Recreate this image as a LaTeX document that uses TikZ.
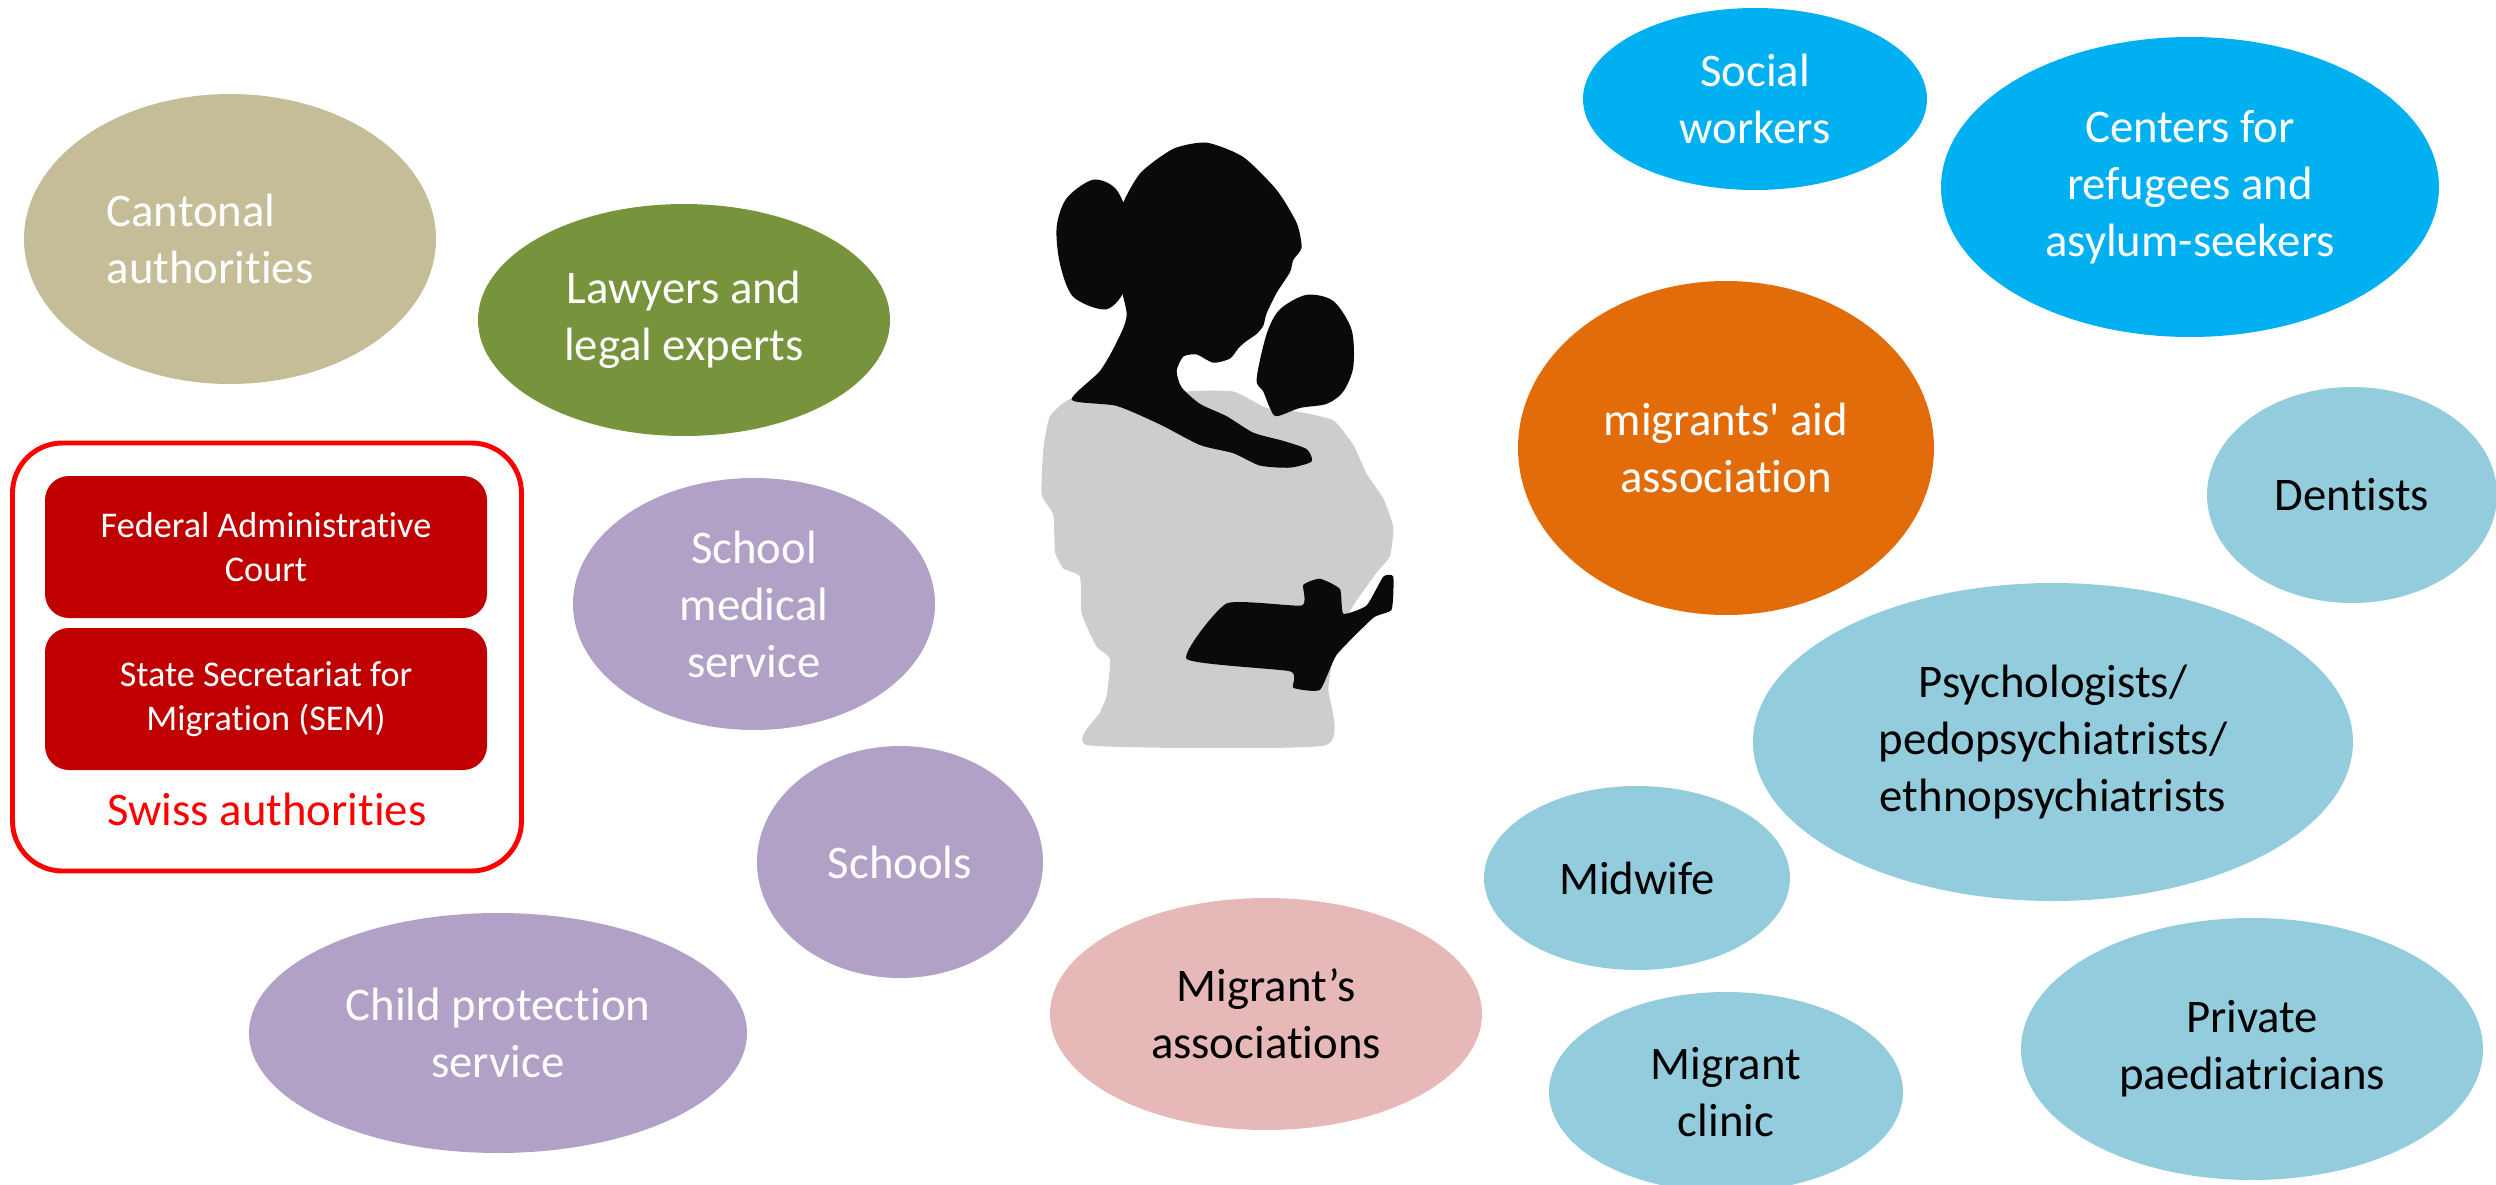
\documentclass[tikz,border=0pt]{standalone}
\usepackage{fontspec}
\setmainfont{Carlito}[Ligatures=NoCommon]
\usetikzlibrary{shapes, positioning}

\definecolor{cantonal}{HTML}{C4BD97}
\definecolor{legal}{HTML}{77933C}
\definecolor{school}{HTML}{B2A1C7}
\definecolor{assoc}{HTML}{E6B9B8}
\definecolor{social}{HTML}{00B0F0}
\definecolor{aid}{HTML}{E36C0A}
\definecolor{health}{HTML}{93CDDD}
\definecolor{fedred}{HTML}{C00000}
\definecolor{swissred}{HTML}{FF0000}
\definecolor{body}{HTML}{CDCDCD}
\definecolor{shadow}{HTML}{0A0A0C}

\begin{document}
\begin{tikzpicture}[x=0.1mm, y=-0.1mm,
	bubble/.style={ellipse, inner sep=0pt, align=center, font=\fontsize{13.3}{16.2}\selectfont},
	authbox/.style={rectangle, rounded corners=2.4mm, fill=fedred, text=white, inner sep=0pt,
		minimum width=44.2mm, minimum height=14.2mm, align=center, font=\fontsize{10.3}{12.5}\selectfont}]
			\useasboundingbox (0,0) rectangle (2496,1185);

			% mother and baby
			\begin{scope}[shift={(1000,120)}, xscale=0.3333, yscale=0.4114]
				\fill[body] plot[smooth cycle, tension=0.3] coordinates {
					(150,720) (220,675) (400,690) (560,660) (700,660) (800,700) (900,710)
					(1000,730) (1060,790) (1100,860) (1150,920) (1180,990) (1170,1060)
					(1130,1100) (1060,1180) (1010,1260) (985,1380) (975,1520) (265,1520)
					(300,1440) (320,1400) (330,1310) (290,1280) (245,1200) (240,1110)
					(190,1090) (165,1050) (160,960) (125,910) (130,800)};
				\fill[shadow] plot[smooth cycle, tension=0.5] coordinates {
					(200,190) (280,145) (350,170) (390,260) (380,400) (320,460) (220,430)
					(180,350) (170,260)};
				\fill[shadow] plot[smooth cycle, tension=0.4] coordinates {
					(215,680) (300,610) (350,540) (380,470) (340,330) (360,220) (420,130)
					(520,70) (620,55) (730,90) (830,170) (890,250) (905,310) (880,340)
					(870,370) (830,420) (800,470) (790,500) (770,520) (735,540) (715,555)
					(690,580) (640,590) (590,570) (550,575) (530,610) (545,650) (600,690)
					(680,720) (760,760) (850,780) (920,800) (935,830) (870,845) (780,840)
					(700,810) (600,790) (480,740) (350,695)};
				\fill[shadow] plot[smooth cycle, tension=0.5] coordinates {
					(800,520) (840,460) (920,425) (1000,440) (1055,510) (1060,600)
					(1030,660) (980,690) (900,700) (830,720) (810,700) (790,660) (770,630)};
				\fill[shadow] plot[smooth cycle, tension=0.3] coordinates {
					(680,1175) (905,1180) (910,1130) (960,1115) (1020,1140) (1030,1200)
					(1100,1180) (1150,1110) (1180,1110) (1175,1190) (1120,1210) (1010,1300)
					(960,1385) (880,1380) (870,1340) (560,1310)};
			\end{scope}

			% Swiss authorities
			\node (swiss)[rectangle, draw=swissred, line width=1.4pt, rounded corners=5mm,
				minimum width=50.9mm, minimum height=42.8mm] at (267,657) {};
			\node (fac)[authbox] at (266,547) {Federal Administrative\\Court};
			\node (sem)[authbox] at (266,699) {State Secretariat for\\Migration (SEM)};
			\node (swisslbl)[text=swissred, font=\fontsize{13.3}{16.2}\selectfont] at (267,809) {Swiss authorities};

			% left side
			\node (cant)[bubble, fill=cantonal, text=white, align=left, minimum width=41.2mm, minimum height=29mm] at (230,239) {Cantonal\\authorities\hspace*{4mm}};
			\node (law)[bubble, fill=legal, text=white, minimum width=41.2mm, minimum height=23.2mm] at (684,320) {Lawyers and\\legal experts};
			\node (smed)[bubble, fill=school, text=white, minimum width=36.2mm, minimum height=25.2mm] at (754,604) {School\\medical\\service};
			\node (schools)[bubble, fill=school, text=white, minimum width=28.6mm, minimum height=23.2mm] at (900,862) {Schools};
			\node (child)[bubble, fill=school, text=white, minimum width=49.8mm, minimum height=24mm] at (498,1033) {Child protection\\service};
			\node (massoc)[bubble, fill=assoc, text=black, minimum width=43.2mm, minimum height=23.2mm] at (1266,1014) {Migrant’s\\associations};

			% right side
			\node (socw)[bubble, fill=social, text=white, minimum width=34.4mm, minimum height=18.2mm] at (1755,99) {Social\\workers};
			\node (centers)[bubble, fill=social, text=white, minimum width=49.8mm, minimum height=30mm] at (2190,187) {Centers for\\refugees and\\asylum-seekers};
			\node (aid)[bubble, fill=aid, text=white, minimum width=41.6mm, minimum height=33.4mm] at (1726,448) {migrants\textquotesingle{} aid\\association};
			\node (dent)[bubble, fill=health, text=black, minimum width=29mm, minimum height=21.6mm] at (2352,495) {Dentists};
			\node (psy)[bubble, fill=health, text=black, minimum width=60mm, minimum height=31.8mm] at (2053,742) {Psychologists/\\pedopsychiatrists/\\ethnopsychiatrists};
			\node (midw)[bubble, fill=health, text=black, minimum width=30.6mm, minimum height=18.4mm] at (1637,878) {Midwife};
			\node (clinic)[bubble, fill=health, text=black, minimum width=35.4mm, minimum height=20mm] at (1726,1092) {Migrant\\clinic};
			\node (paed)[bubble, fill=health, text=black, minimum width=46.2mm, minimum height=26.2mm] at (2252,1049) {Private\\paediatricians};
		\end{tikzpicture}
\end{document}
